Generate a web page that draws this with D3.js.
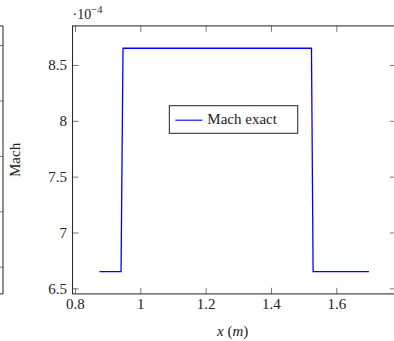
<!DOCTYPE html>
<html>
<head>
<meta charset="utf-8">
<script src="https://cdn.jsdelivr.net/npm/d3@7"></script>
<style>
  html, body { margin: 0; padding: 0; background: #fff; }
  svg { display: block; }
  svg text { font-family: "Liberation Serif", "Times New Roman", serif !important; fill: #222; }
</style>
</head>
<body>
<svg id="chart" width="394" height="341"></svg>
<script>
// Exact Mach number along the duct: low plateau, raised section, low plateau
const positions = [0.875, 0.941, 0.947, 1.524, 1.529, 1.7];
const machValues = [6.65e-4, 6.65e-4, 8.65e-4, 8.65e-4, 6.65e-4, 6.65e-4];
const xTicks = [0.8, 1, 1.2, 1.4, 1.6];
const yTicks = [6.5e-4, 7e-4, 7.5e-4, 8e-4, 8.5e-4];
const yMultiplier = 1e-4;
const seriesName = "Mach exact";
// right axis of the neighbouring panel (only its edge is visible)
const neighbourTicks = [0, 1, 2, 3, 4];

const svg = d3.select("#chart");
const plot = { left: 72.55, right: 395.9, top: 25.9, bottom: 293.9 };
const fontSize = 15;

// axis limits enlarged by 10% of the data range on each side
function enlarge(ext, f) {
  const d = (ext[1] - ext[0]) * f;
  return [ext[0] - d, ext[1] + d];
}
const x = d3.scaleLinear().domain(enlarge(d3.extent(positions), 0.1)).range([plot.left, plot.right]);
const y = d3.scaleLinear().domain(enlarge(d3.extent(machValues), 0.1)).range([plot.bottom, plot.top]);

const tickLen = 6;
function styleAxis(g) {
  g.attr("font-family", null).attr("font-size", null);
  g.select(".domain").remove();
  g.selectAll(".tick line").attr("stroke", "#6a6a6a").attr("stroke-width", 0.9);
  g.selectAll(".tick text").style("font-size", fontSize + "px").attr("fill", "#222");
}

// neighbouring panel edge
const ny = d3.scaleLinear().domain([-0.49, 4.345]).range([plot.bottom, plot.top]);
svg.append("g").attr("transform", "translate(3,0)")
  .call(d3.axisLeft(ny).tickValues(neighbourTicks).tickSize(tickLen).tickFormat(""))
  .call(styleAxis);
svg.append("path")
  .attr("d", `M-1,${plot.top}H3V${plot.bottom}H-1`)
  .attr("fill", "none").attr("stroke", "#222").attr("stroke-width", 1);

// ticks on all four sides, pointing inwards
svg.append("g").attr("transform", `translate(0,${plot.bottom})`)
  .call(d3.axisBottom(x).tickValues(xTicks).tickSizeInner(-tickLen).tickSizeOuter(0).tickPadding(4.5)
    .tickFormat(d3.format("~g")))
  .call(styleAxis);
svg.append("g").attr("transform", `translate(0,${plot.top})`)
  .call(d3.axisTop(x).tickValues(xTicks).tickSizeInner(-tickLen).tickSizeOuter(0).tickFormat(""))
  .call(styleAxis);
svg.append("g").attr("transform", `translate(${plot.left},0)`)
  .call(d3.axisLeft(y).tickValues(yTicks).tickSizeInner(-tickLen).tickSizeOuter(0).tickPadding(5.5)
    .tickFormat(d => d3.format("~g")(+(d / yMultiplier).toFixed(6))))
  .call(styleAxis);
svg.append("g").attr("transform", `translate(${plot.right},0)`)
  .call(d3.axisRight(y).tickValues(yTicks).tickSizeInner(-tickLen).tickSizeOuter(0).tickFormat(""))
  .call(styleAxis);

// data line
const line = d3.line().x((d, i) => x(positions[i])).y(d => y(d));
svg.append("path")
  .datum(machValues)
  .attr("d", line)
  .attr("fill", "none")
  .attr("stroke", "#0000ff")
  .attr("stroke-width", 1.3);

// axis frame
svg.append("rect")
  .attr("x", plot.left).attr("y", plot.top)
  .attr("width", plot.right - plot.left).attr("height", plot.bottom - plot.top)
  .attr("fill", "none").attr("stroke", "#222").attr("stroke-width", 1);

// scale multiplier above the y axis
const mult = svg.append("text").attr("x", plot.left).attr("y", 19).style("font-size", "14px");
mult.append("tspan").text("·10");
mult.append("tspan").attr("dy", -6).style("font-size", "10.5px").text("−4");

// axis labels
svg.append("text")
  .attr("transform", `translate(20,${(plot.top + plot.bottom) / 2}) rotate(-90)`)
  .attr("text-anchor", "middle").style("font-size", fontSize + "px").text("Mach");
const xl = svg.append("text")
  .attr("x", (plot.left + plot.right) / 2 - 1.5).attr("y", 336)
  .attr("text-anchor", "middle").style("font-size", fontSize + "px");
xl.append("tspan").attr("font-style", "italic").text("x");
xl.append("tspan").text(" (");
xl.append("tspan").attr("font-style", "italic").text("m");
xl.append("tspan").text(")");

// legend
const lw = 128.4, lh = 27.6;
const lx = (plot.left + plot.right) / 2 - lw / 2 - 0.7;
const ly = 105.7;
const legend = svg.append("g").attr("transform", `translate(${lx},${ly})`);
legend.append("rect").attr("width", lw).attr("height", lh)
  .attr("fill", "#fff").attr("stroke", "#222").attr("stroke-width", 1);
legend.append("line").attr("x1", 6).attr("x2", 33).attr("y1", 14.5).attr("y2", 14.5)
  .attr("stroke", "#0000ff").attr("stroke-width", 1.1);
legend.append("text").attr("x", 38).attr("y", 18.6).style("font-size", fontSize + "px").text(seriesName);
</script>
</body>
</html>
